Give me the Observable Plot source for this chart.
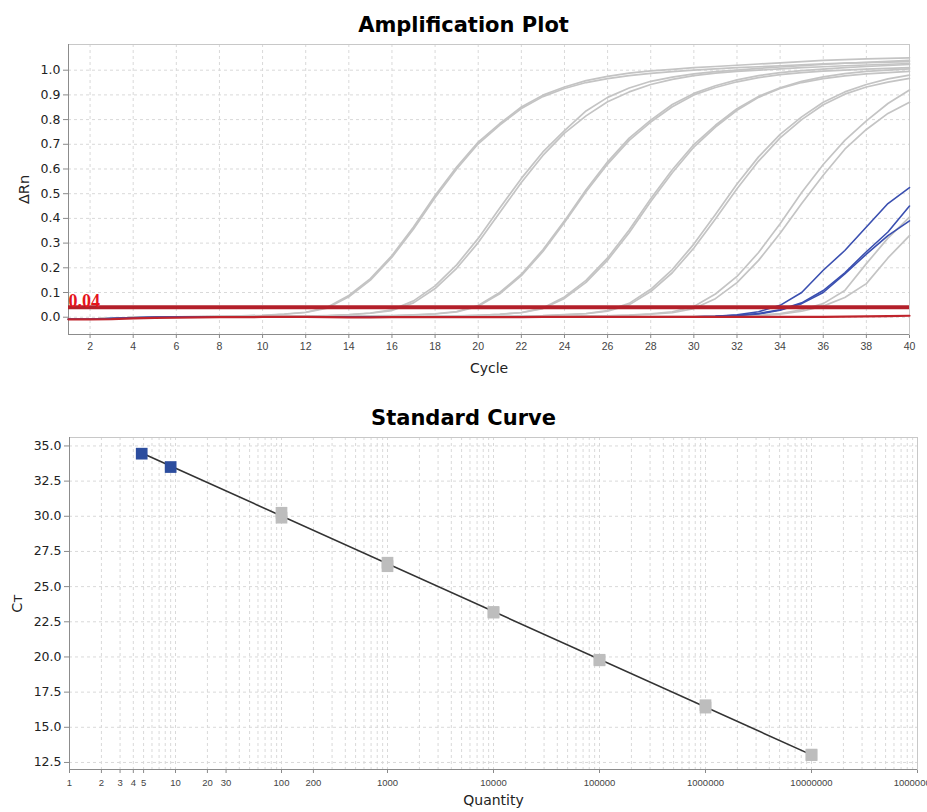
<!DOCTYPE html>
<html>
<head>
<meta charset="utf-8">
<script src="https://cdn.jsdelivr.net/npm/d3@7"></script>
<script src="https://cdn.jsdelivr.net/npm/@observablehq/plot@0.6"></script>
<style>
html, body { margin: 0; padding: 0; background: #fff; }
#wrap { position: relative; width: 927px; height: 812px; overflow: hidden; font-family: "DejaVu Sans", sans-serif; }
.title { position: absolute; left: 0; width: 927px; text-align: center; font: bold 21px "DejaVu Sans", sans-serif; color: #000; line-height: 24px; }
#amp { position: absolute; left: 0; top: 0; }
#std { position: absolute; left: 0; top: 385px; }
#wrap g[aria-label^="x-axis"], #wrap g[aria-label^="y-axis"] { color: #8a8a8a; }
#wrap g[aria-label^="y-axis"] text { font: 12.5px "DejaVu Sans", sans-serif; fill: #222; }
#wrap g[aria-label^="x-axis"] text { font: 10.5px "Liberation Sans", sans-serif; fill: #444; }
</style>
</head>
<body>
<div id="wrap">
  <div id="amp"></div>
  <div id="std"></div>
  <div class="title" style="top:13px">Amplification Plot</div>
  <div class="title" style="top:406px">Standard Curve</div>
</div>
<script>
// ---------- Amplification plot data ----------
const cycles = [1,2,3,4,5,6,7,8,9,10,11,12,13,14,15,16,17,18,19,20,21,22,23,24,25,26,27,28,29,30,31,32,33,34,35,36,37,38,39,40];
const ampCycleTicks = [2,4,6,8,10,12,14,16,18,20,22,24,26,28,30,32,34,36,38,40];
const ampRnTicks = [0,0.1,0.2,0.3,0.4,0.5,0.6,0.7,0.8,0.9,1.0];
const ampRnDomain = [-0.07, 1.104];
const ampCycleDomain = [1, 40];
const threshold = 0.04;

// standards (grey), two replicates each
const std1a = [-0.008,-0.008,-0.005,-0.002,0,0.001,0.002,0.003,0.005,0.008,0.013,0.02,0.04,0.088,0.156,0.25,0.365,0.493,0.608,0.709,0.784,0.851,0.899,0.932,0.958,0.975,0.988,0.997,1.003,1.01,1.015,1.02,1.025,1.03,1.035,1.04,1.043,1.046,1.048,1.05];
const std1b = [-0.008,-0.008,-0.005,-0.002,0,0.001,0.002,0.003,0.004,0.007,0.012,0.019,0.037,0.083,0.15,0.243,0.357,0.485,0.6,0.702,0.778,0.845,0.893,0.926,0.95,0.966,0.978,0.987,0.994,1.0,1.005,1.01,1.014,1.018,1.022,1.026,1.029,1.031,1.033,1.035];
const std2a = [-0.008,-0.008,-0.005,-0.002,0,0.001,0.001,0.002,0.002,0.003,0.003,0.004,0.007,0.011,0.017,0.03,0.066,0.127,0.212,0.319,0.442,0.562,0.669,0.755,0.835,0.89,0.928,0.955,0.972,0.985,0.994,1.0,1.007,1.013,1.018,1.023,1.028,1.032,1.036,1.04];
const std2b = [-0.008,-0.008,-0.005,-0.002,0,0.001,0.001,0.002,0.002,0.003,0.003,0.004,0.006,0.01,0.016,0.027,0.058,0.116,0.198,0.302,0.424,0.545,0.655,0.745,0.815,0.872,0.912,0.942,0.963,0.978,0.988,0.995,1.0,1.005,1.01,1.014,1.018,1.021,1.024,1.027];
const std3a = [-0.008,-0.008,-0.005,-0.002,0,0.001,0.001,0.001,0.001,0.002,0.002,0.002,0.003,0.003,0.005,0.007,0.01,0.014,0.023,0.047,0.1,0.174,0.273,0.39,0.516,0.629,0.725,0.798,0.861,0.906,0.937,0.961,0.978,0.99,0.998,1.004,1.01,1.015,1.019,1.023];
const std3b = [-0.008,-0.008,-0.005,-0.002,0,0.001,0.001,0.001,0.001,0.002,0.002,0.002,0.003,0.003,0.004,0.006,0.009,0.013,0.021,0.044,0.095,0.168,0.266,0.383,0.508,0.62,0.716,0.79,0.852,0.9,0.93,0.953,0.97,0.982,0.99,0.996,1.0,1.004,1.007,1.01];
const std4a = [-0.008,-0.008,-0.005,-0.002,0,0.001,0.001,0.001,0.001,0.001,0.001,0.001,0.001,0.002,0.002,0.002,0.002,0.003,0.005,0.008,0.012,0.019,0.037,0.082,0.149,0.24,0.353,0.48,0.597,0.699,0.777,0.844,0.894,0.929,0.955,0.973,0.986,0.995,1.0,1.005];
const std4b = [-0.008,-0.008,-0.005,-0.002,0,0.001,0.001,0.001,0.001,0.001,0.001,0.001,0.001,0.001,0.002,0.002,0.002,0.003,0.004,0.008,0.012,0.018,0.035,0.076,0.141,0.231,0.342,0.468,0.585,0.689,0.77,0.838,0.89,0.926,0.95,0.966,0.977,0.985,0.99,0.995];
const std5a = [-0.008,-0.008,-0.005,-0.002,0,0.001,0.001,0.001,0.001,0.001,0.001,0.001,0.001,0.001,0.001,0.001,0.002,0.002,0.002,0.002,0.003,0.005,0.007,0.011,0.015,0.027,0.056,0.113,0.193,0.296,0.416,0.539,0.649,0.74,0.811,0.87,0.912,0.942,0.965,0.98];
const std5b = [-0.008,-0.008,-0.005,-0.002,0,0.001,0.001,0.001,0.001,0.001,0.001,0.001,0.001,0.001,0.001,0.001,0.001,0.002,0.002,0.002,0.003,0.004,0.006,0.01,0.014,0.024,0.05,0.104,0.18,0.28,0.398,0.52,0.632,0.726,0.8,0.86,0.903,0.932,0.952,0.967];
const std6a = [-0.008,-0.008,-0.005,-0.002,0,0.001,0.001,0.001,0.001,0.001,0.001,0.001,0.001,0.001,0.001,0.001,0.001,0.001,0.001,0.002,0.002,0.002,0.002,0.003,0.005,0.006,0.009,0.014,0.022,0.043,0.094,0.165,0.262,0.378,0.505,0.618,0.716,0.795,0.865,0.92];
const std6b = [-0.008,-0.008,-0.005,-0.002,0,0.001,0.001,0.001,0.001,0.001,0.001,0.001,0.001,0.001,0.001,0.001,0.001,0.001,0.001,0.001,0.002,0.002,0.002,0.002,0.004,0.005,0.008,0.012,0.018,0.035,0.075,0.14,0.23,0.34,0.46,0.575,0.68,0.76,0.825,0.87];
// late grey samples
const lateA = [-0.008,-0.008,-0.005,-0.002,0,0.001,0.001,0.001,0.001,0.001,0.001,0.001,0.001,0.001,0.001,0.001,0.001,0.001,0.001,0.001,0.001,0.001,0.001,0.001,0.001,0.002,0.002,0.002,0.002,0.002,0.003,0.005,0.008,0.015,0.03,0.055,0.108,0.217,0.32,0.405];
const lateB = [-0.008,-0.008,-0.005,-0.002,0,0.001,0.001,0.001,0.001,0.001,0.001,0.001,0.001,0.001,0.001,0.001,0.001,0.001,0.001,0.001,0.001,0.001,0.001,0.001,0.001,0.001,0.001,0.001,0.002,0.002,0.002,0.004,0.006,0.012,0.024,0.045,0.08,0.136,0.24,0.33];
// unknown samples (blue)
const unk1 = [-0.008,-0.008,-0.005,-0.002,0,0.001,0.001,0.001,0.001,0.001,0.001,0.001,0.001,0.001,0.001,0.001,0.001,0.001,0.001,0.001,0.001,0.001,0.001,0.001,0.001,0.001,0.001,0.001,0.001,0.002,0.004,0.01,0.022,0.048,0.1,0.19,0.27,0.365,0.46,0.525];
const unk2 = [-0.008,-0.008,-0.005,-0.002,0,0.001,0.001,0.001,0.001,0.001,0.001,0.001,0.001,0.001,0.001,0.001,0.001,0.001,0.001,0.001,0.001,0.001,0.001,0.001,0.001,0.001,0.001,0.001,0.001,0.002,0.004,0.008,0.015,0.03,0.058,0.108,0.18,0.265,0.345,0.45];
const unk3 = [-0.008,-0.008,-0.005,-0.002,0,0.001,0.001,0.001,0.001,0.001,0.001,0.001,0.001,0.001,0.001,0.001,0.001,0.001,0.001,0.001,0.001,0.001,0.001,0.001,0.001,0.001,0.001,0.001,0.001,0.001,0.003,0.007,0.013,0.028,0.055,0.1,0.175,0.255,0.33,0.39];
// no-template control (red)
const ntc = [-0.009,-0.009,-0.008,-0.005,-0.003,-0.002,-0.001,0,0,0.001,0.001,0.001,0,-0.001,-0.001,0,0,0,0,0,0,0,0.001,0.001,0.001,0.001,0.001,0.001,0.001,0.001,0.001,0.001,0.001,0.001,0.001,0.001,0.002,0.003,0.004,0.006];

const greySeries = [std1a, std1b, std2a, std2b, std3a, std3b, std4a, std4b, std5a, std5b, std6a, std6b, lateA, lateB];
const blueSeries = [unk1, unk2, unk3];
const redSeries = [ntc];

// ---------- Standard curve data ----------
const stdQuantity = [100,100,1000,1000,10000,10000,100000,100000,1000000,1000000,10000000,10000000];
const stdCt = [30.25,29.9,26.7,26.45,23.2,23.15,19.8,19.76,16.57,16.4,13.06,13.02];
const unkQuantity = [4.8, 9.0];
const unkCt = [34.45, 33.5];
const fitQuantity = [4.8, 10000000];
const fitCt = [34.5, 13.04];
const stdQtyTicks = [1,2,3,4,5,10,20,30,100,200,1000,10000,100000,1000000,10000000,100000000];
const stdQtyDecades = [1,10,100,1000,10000,100000,1000000,10000000];
const stdQtyMinor = [1,2,3,4,5,6,7,8,9];
const stdCtTicks = [12.5,15,17.5,20,22.5,25,27.5,30,32.5,35];
const stdQtyDomain = [1, 100000000];
const stdCtDomain = [12.0, 35.6];

// ---------- build tables ----------
const toRows = (series, kind) => series.flatMap((vals, i) => vals.map((v, j) => ({cycle: cycles[j], rn: v, id: kind + i})));
const greyRows = toRows(greySeries, "g");
const blueRows = toRows(blueSeries, "b");
const redRows = toRows(redSeries, "r");
const thrRows = [{cycle: cycles[0], rn: threshold, label: d3.format(".2f")(threshold)}];
const stdRows = stdQuantity.map((q, i) => ({q, ct: stdCt[i]}));
const unkRows = unkQuantity.map((q, i) => ({q, ct: unkCt[i]}));
const fitRows = fitQuantity.map((q, i) => ({q, ct: fitCt[i]}));
const qtyGrid = stdQtyDecades.flatMap(d => stdQtyMinor.map(m => d * m)).concat([stdQtyDomain[1]]);

const dash = {stroke: "#d9d9d9", strokeDasharray: "3,3", strokeWidth: 1};
const font = "DejaVu Sans, sans-serif";

const amp = Plot.plot({
  width: 927, height: 385,
  marginLeft: 68, marginRight: 18, marginTop: 44, marginBottom: 51,
  style: {fontFamily: font, background: "#fff"},
  x: {domain: ampCycleDomain, ticks: ampCycleTicks, tickSize: 4, tickPadding: 4, label: null, tickFormat: d => String(d)},
  y: {domain: ampRnDomain, ticks: ampRnTicks, tickSize: 5, tickPadding: 3, label: null, tickFormat: d3.format(".1f")},
  marks: [
    Plot.ruleX(ampCycleTicks, dash),
    Plot.ruleY(ampRnTicks, dash),
    Plot.frame({stroke: "#c8c8c8"}),
    Plot.ruleX([ampCycleDomain[0]], {stroke: "#8c8c8c"}),
    Plot.ruleY([ampRnDomain[0]], {stroke: "#8c8c8c"}),
    Plot.line(greyRows, {x: "cycle", y: "rn", z: "id", stroke: "#c4c4c4", strokeWidth: 1.7}),
    Plot.line(blueRows, {x: "cycle", y: "rn", z: "id", stroke: "#3a4fb0", strokeWidth: 1.6}),
    Plot.line(redRows, {x: "cycle", y: "rn", z: "id", stroke: "#c0242c", strokeWidth: 2.2}),
    Plot.ruleY([threshold], {stroke: "#b3202a", strokeWidth: 4}),
    Plot.text(thrRows, {x: "cycle", y: "rn", text: "label", textAnchor: "start", lineAnchor: "bottom", dy: 0, fill: "#e5141c", fontSize: 18, fontWeight: "bold", fontFamily: "Liberation Serif, serif"}),
    Plot.text(["ΔRn"], {frameAnchor: "left", text: d => d, rotate: -90, dx: -44, textAnchor: "middle", lineAnchor: "middle", fontSize: 14.5, fill: "#222"}),
    Plot.text(["Cycle"], {frameAnchor: "bottom", text: d => d, dy: 34, textAnchor: "middle", lineAnchor: "middle", fontSize: 14, fill: "#222"})
  ]
});
document.getElementById("amp").appendChild(amp);

const std = Plot.plot({
  width: 927, height: 427,
  marginLeft: 69, marginRight: 10, marginTop: 52, marginBottom: 43,
  style: {fontFamily: font, background: "#fff"},
  x: {type: "log", domain: stdQtyDomain, ticks: stdQtyTicks, tickSize: 4, tickPadding: 4, label: null, tickFormat: () => ""},
  y: {domain: stdCtDomain, ticks: stdCtTicks, tickSize: 5, tickPadding: 3, label: null, tickFormat: d3.format(".1f")},
  marks: [
    Plot.ruleX(qtyGrid, dash),
    Plot.ruleY(stdCtTicks, dash),
    Plot.frame({stroke: "#c8c8c8"}),
    Plot.ruleX([stdQtyDomain[0]], {stroke: "#8c8c8c"}),
    Plot.ruleY([stdCtDomain[0]], {stroke: "#8c8c8c"}),
    Plot.line(fitRows, {x: "q", y: "ct", stroke: "#333", strokeWidth: 1.6}),
    Plot.dot(stdRows, {x: "q", y: "ct", symbol: "square", r: 6.6, fill: "#bdbdbd", stroke: "none"}),
    Plot.dot(unkRows, {x: "q", y: "ct", symbol: "square", r: 6.6, fill: "#2c4d9e", stroke: "none"}),
    Plot.text(stdQtyTicks, {x: d => d, frameAnchor: "bottom", text: d => String(d), dy: 13, textAnchor: "middle", lineAnchor: "middle", fontSize: 9.5, fontFamily: "Liberation Sans, sans-serif", fill: "#444"}),
    Plot.text(["Cт"], {frameAnchor: "left", text: d => d, rotate: -90, dx: -52, textAnchor: "middle", lineAnchor: "middle", fontSize: 14.5, fill: "#222"}),
    Plot.text(["Quantity"], {frameAnchor: "bottom", text: d => d, dy: 31, textAnchor: "middle", lineAnchor: "middle", fontSize: 14, fill: "#222"})
  ]
});
document.getElementById("std").appendChild(std);
</script>
</body>
</html>
